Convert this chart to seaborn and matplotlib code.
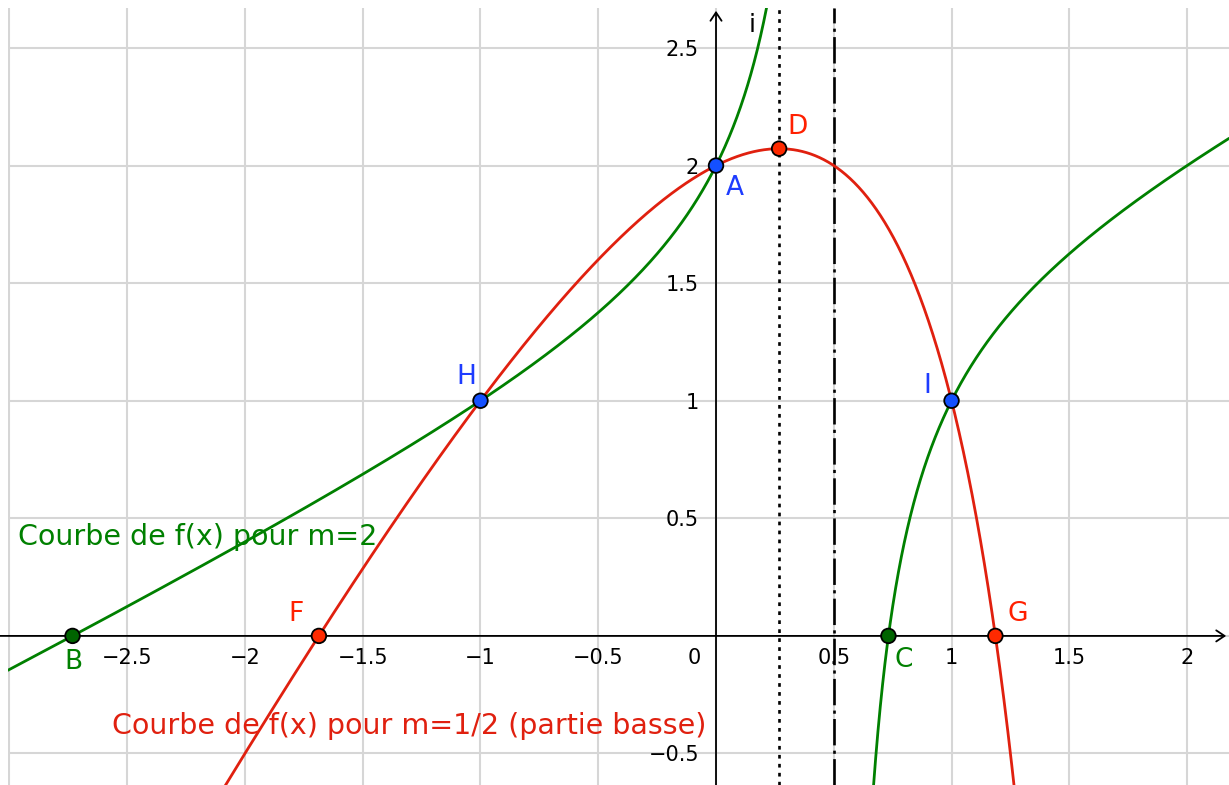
import numpy as np
import pandas as pd
import matplotlib
matplotlib.use("Agg")
import matplotlib.pyplot as plt
import seaborn as sns

# ---------------- data ----------------
# family of functions f_m(x) = (x^2 + m x - 2) / (m x - 1)
m_values = [2.0, 0.5]
curve_colors = ["#008000", "#E0200F"]

# named points (x, y)
point_names = ["A", "B", "C", "D", "F", "G", "H", "I"]
point_x = [0.0, -2.732, 0.732, 0.268, -1.686, 1.186, -1.0, 1.0]
point_y = [2.0, 0.0, 0.0, 2.072, 0.0, 0.0, 1.0, 1.0]
point_fill = ["#1450FF", "#006400", "#006400", "#FF2A00", "#FF2A00", "#FF2A00", "#1450FF", "#1450FF"]
label_color = ["#1E3CFF", "#008000", "#008000", "#FF2000", "#FF2000", "#FF2000", "#1E3CFF", "#1E3CFF"]
label_offset = [(19, -22), (1, -26), (15, -24), (18, 22), (-23, 22), (22, 22), (-14, 24), (-24, 15)]

x_tick_values = [-2.5, -2, -1.5, -1, -0.5, 0.5, 1, 1.5, 2]
x_tick_labels = ["\u22122.5", "\u22122", "\u22121.5", "\u22121", "\u22120.5", "0.5", "1", "1.5", "2"]
y_tick_values = [-0.5, 0.5, 1, 1.5, 2, 2.5]
y_tick_labels = ["\u22120.5", "0.5", "1", "1.5", "2", "2.5"]

x_dotted = 0.268   # abscissa of D
x_dashdot = 0.5    # asymptote of m=2 curve

XMIN, XMAX = -3.006, 2.178
YMIN, YMAX = -0.634, 2.670


def f(x, m):
    return (x ** 2 + m * x - 2) / (m * x - 1)


# ---------------- figure ----------------
sns.set_style("white")
plt.rcParams["font.family"] = ["DejaVu Sans"]

fig = plt.figure(figsize=(12.29, 7.85), dpi=100)
ax = fig.add_axes([8 / 1229, 0, 1221 / 1229, 777 / 785])
ax.set_xlim(XMIN, XMAX)
ax.set_ylim(YMIN, YMAX)
for s in ax.spines.values():
    s.set_visible(False)

ax.set_xticks(np.arange(-3, 2.01, 0.5))
ax.set_yticks(np.arange(-0.5, 2.51, 0.5))
ax.tick_params(length=0, labelbottom=False, labelleft=False)
ax.grid(True, color="#d6d6d6", lw=1.5, zorder=0)
ax.set_axisbelow(True)

# axes with arrows
arrow = dict(arrowstyle="->,head_length=0.6,head_width=0.4", color="black", lw=1.3,
             shrinkA=0, shrinkB=0)
ax.annotate("", xy=(XMAX - 0.012, 0), xytext=(XMIN - 0.1, 0), arrowprops=arrow, zorder=2)
ax.annotate("", xy=(0, YMAX - 0.012), xytext=(0, YMIN - 0.1), arrowprops=arrow, zorder=2)

# tick labels
for v, t in zip(x_tick_values, x_tick_labels):
    ax.annotate(t, (v, 0), xytext=(0, -22), textcoords="offset pixels",
                ha="center", va="center", fontsize=15, color="black", zorder=3)
ax.annotate("0", (0, 0), xytext=(-22, -22), textcoords="offset pixels",
            ha="center", va="center", fontsize=15, color="black", zorder=3)
for v, t in zip(y_tick_values, y_tick_labels):
    ax.annotate(t, (0, v), xytext=(-17, -2), textcoords="offset pixels",
                ha="right", va="center", fontsize=15, color="black", zorder=3)

# vertical reference lines
ax.axvline(x_dotted, color="black", lw=1.9, linestyle=(0, (1.4, 2.0)), zorder=3)
ax.axvline(x_dashdot, color="black", lw=1.9, linestyle=(0, (10, 2, 1.2, 2)), zorder=3)

# curves
rows = []
m2 = m_values[0]
for branch, (a, b) in enumerate([(XMIN - 0.1, 1 / m2 - 0.2), (1 / m2 + 0.12, XMAX + 0.1)]):
    xs = np.linspace(a, b, 1500)
    rows.append(pd.DataFrame({"x": xs, "y": f(xs, m2), "curve": f"g{branch}"}))
mh = m_values[1]
xs = np.linspace(-2.3, 1.4, 2000)
rows.append(pd.DataFrame({"x": xs, "y": f(xs, mh), "curve": "r0"}))
df = pd.concat(rows, ignore_index=True)

palette = {"g0": curve_colors[0], "g1": curve_colors[0], "r0": curve_colors[1]}
sns.lineplot(data=df, x="x", y="y", hue="curve", palette=palette, sort=False,
             estimator=None, lw=2.0, legend=False, ax=ax, zorder=4)

# points
pts = pd.DataFrame({"x": point_x, "y": point_y, "name": point_names})
sns.scatterplot(data=pts, x="x", y="y", hue="name",
                palette=dict(zip(point_names, point_fill)), s=110,
                edgecolor="black", linewidth=1.3, legend=False, ax=ax, zorder=6)
for n, px, py, c, off in zip(point_names, point_x, point_y, label_color, label_offset):
    ax.annotate(n, (px, py), xytext=off, textcoords="offset pixels",
                ha="center", va="center", fontsize=19, color=c, zorder=7)

# curve labels
ax.text(-2.964, 0.421, "Courbe de f(x) pour m=2", color="#008000", fontsize=20.5,
        ha="left", va="center", zorder=7)
ax.text(-2.565, -0.383, "Courbe de f(x) pour m=1/2 (partie basse)", color="#E0200F",
        fontsize=20.5, ha="left", va="center", zorder=7)
ax.text(0.153, 2.598, "i", color="black", fontsize=18, ha="center", va="center", zorder=7)

ax.set_xlabel("")
ax.set_ylabel("")
fig.savefig("out.png", dpi=100)
